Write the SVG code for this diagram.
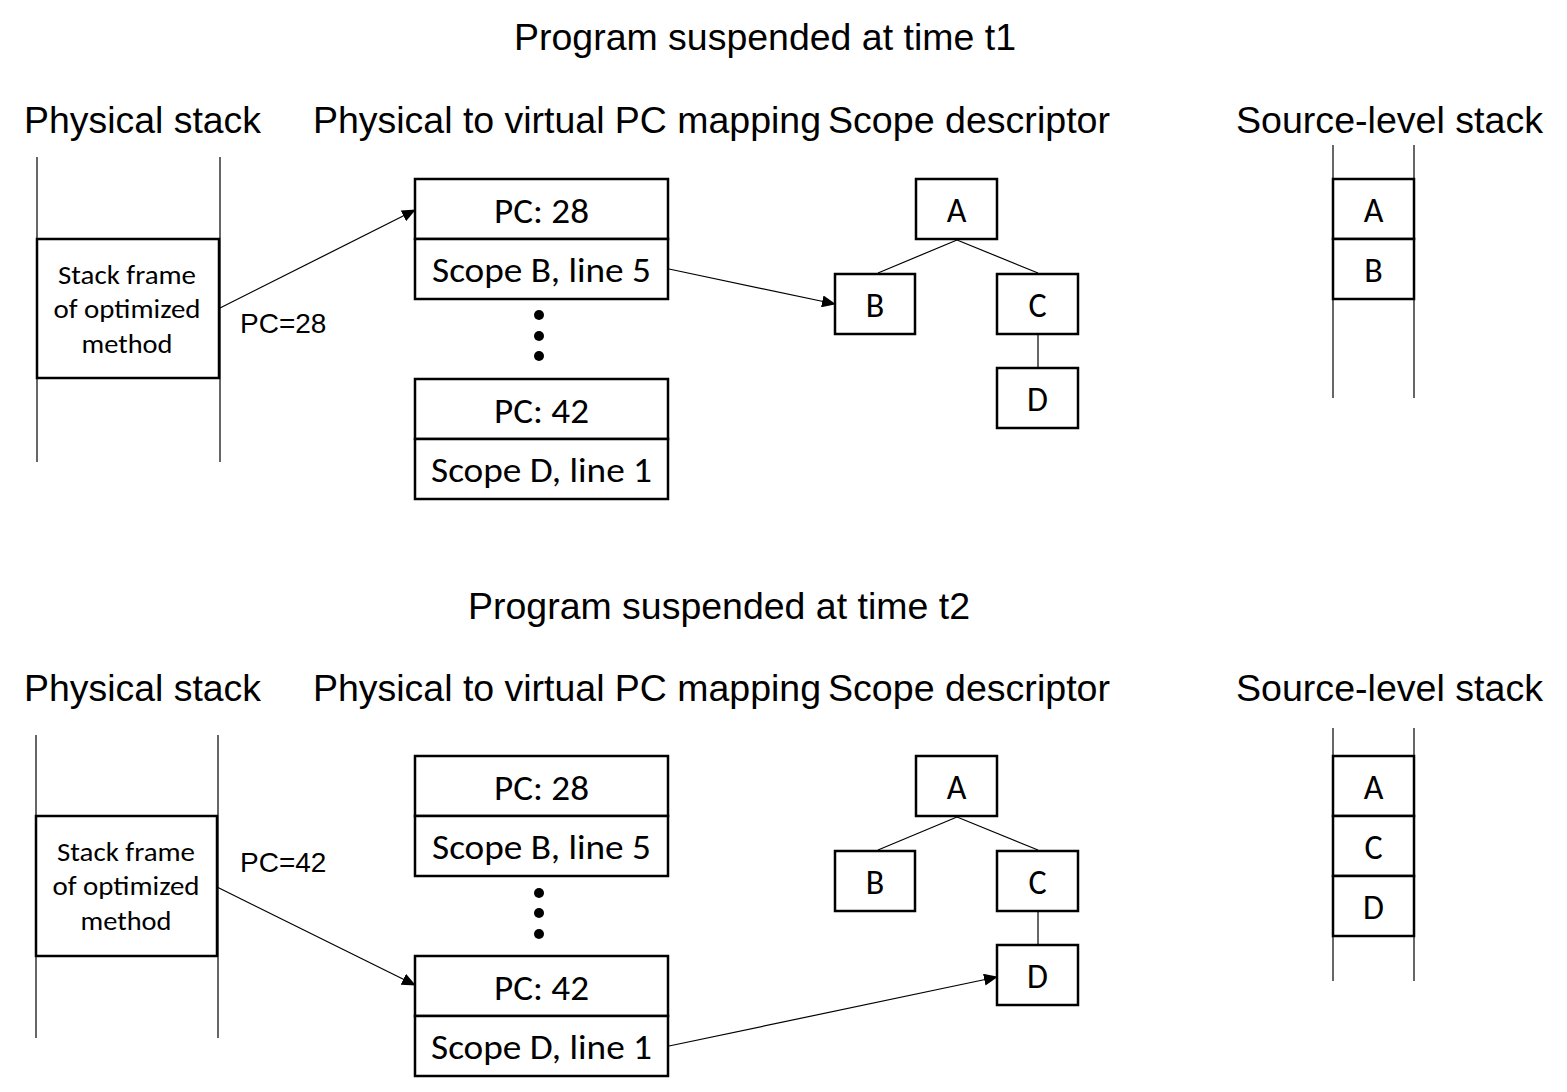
<svg xmlns="http://www.w3.org/2000/svg" width="1567" height="1092" viewBox="0 0 1567 1092">
<style>
.hdr{font-family:"Liberation Sans",Arial,sans-serif;font-size:37px;fill:#000}
.lbl{font-family:"Liberation Sans",Arial,sans-serif;font-size:28px;fill:#000}
.bt{font-family:Carlito,"Open Sans","Noto Sans",sans-serif;font-size:34px;fill:#000;text-anchor:middle}
.lt{font-family:Carlito,"Open Sans","Noto Sans",sans-serif;font-size:34px;fill:#000;text-anchor:middle}
.st{font-family:Carlito,"Open Sans","Noto Sans",sans-serif;font-size:26px;fill:#000;text-anchor:middle}
.box{fill:#fff;stroke:#000;stroke-width:2.5}
.rail{stroke:#000;stroke-width:1.2;fill:none}
.edge{stroke:#000;stroke-width:1.2;fill:none}
.arr{stroke:#000;stroke-width:1.2;fill:none;marker-end:url(#ah)}
</style>
<defs>
<marker id="ah" markerUnits="userSpaceOnUse" markerWidth="14" markerHeight="12" refX="13" refY="6" orient="auto">
<path d="M0,0 L14,6 L0,12 Z" fill="#000"/>
</marker>
</defs>
<rect width="1567" height="1092" fill="#fff"/>

<!-- ===== Top section ===== -->
<g id="title1"><text class="hdr" x="514" y="50" textLength="502" lengthAdjust="spacingAndGlyphs">Program suspended at time t1</text></g>
<g id="headers1">
<text class="hdr" x="24" y="133" textLength="237" lengthAdjust="spacingAndGlyphs">Physical stack</text>
<text class="hdr" x="313" y="133" textLength="508" lengthAdjust="spacingAndGlyphs">Physical to virtual PC mapping</text>
<text class="hdr" x="828" y="133" textLength="282" lengthAdjust="spacingAndGlyphs">Scope descriptor</text>
<text class="hdr" x="1236" y="133" textLength="307" lengthAdjust="spacingAndGlyphs">Source-level stack</text>
</g>

<g id="phys-stack-1">
<line class="rail" x1="37" y1="157" x2="37" y2="462"/>
<line class="rail" x1="220" y1="157" x2="220" y2="462"/>
<rect class="box" x="37" y="239" width="182" height="139"/>
<text class="st" x="127" y="284" textLength="138" lengthAdjust="spacingAndGlyphs">Stack frame</text>
<text class="st" x="127" y="318" textLength="147" lengthAdjust="spacingAndGlyphs">of optimized</text>
<text class="st" x="127" y="353" textLength="91" lengthAdjust="spacingAndGlyphs">method</text>
</g>

<g id="map-28-1">
<rect class="box" x="415" y="179" width="253" height="60"/>
<rect class="box" x="415" y="239" width="253" height="60"/>
<text class="bt" x="541.5" y="223" textLength="95" lengthAdjust="spacingAndGlyphs">PC: 28</text>
<text class="bt" x="541.5" y="282" textLength="219" lengthAdjust="spacingAndGlyphs">Scope B, line 5</text>
</g>
<g id="dots-1">
<circle cx="539" cy="315" r="5"/>
<circle cx="539" cy="336" r="5"/>
<circle cx="539" cy="356" r="5"/>
</g>
<g id="map-42-1">
<rect class="box" x="415" y="379" width="253" height="60"/>
<rect class="box" x="415" y="439" width="253" height="60"/>
<text class="bt" x="541.5" y="423" textLength="95" lengthAdjust="spacingAndGlyphs">PC: 42</text>
<text class="bt" x="541.5" y="482" textLength="221" lengthAdjust="spacingAndGlyphs">Scope D, line 1</text>
</g>

<g id="tree1-A"><rect class="box" x="916" y="179" width="81" height="60"/><text class="lt" x="956.5" y="222">A</text></g>
<g id="tree1-B"><rect class="box" x="835" y="274" width="80" height="60"/><text class="lt" x="875" y="317">B</text></g>
<g id="tree1-C"><rect class="box" x="997" y="274" width="81" height="60"/><text class="lt" x="1037.5" y="317">C</text></g>
<g id="tree1-D"><rect class="box" x="997" y="368" width="81" height="60"/><text class="lt" x="1037.5" y="411">D</text></g>

<g id="src-stack-1">
<line class="rail" x1="1333" y1="145" x2="1333" y2="398"/>
<line class="rail" x1="1414" y1="145" x2="1414" y2="398"/>
<rect class="box" x="1333" y="179" width="81" height="60"/>
<rect class="box" x="1333" y="239" width="81" height="60"/>
<text class="lt" x="1373.5" y="222">A</text>
<text class="lt" x="1373.5" y="282">B</text>
</g>

<g id="label-pc28"><text class="lbl" x="240" y="333">PC=28</text></g>

<!-- ===== Bottom section ===== -->
<g id="title2"><text class="hdr" x="468" y="619" textLength="502" lengthAdjust="spacingAndGlyphs">Program suspended at time t2</text></g>
<g id="headers2">
<text class="hdr" x="24" y="701" textLength="237" lengthAdjust="spacingAndGlyphs">Physical stack</text>
<text class="hdr" x="313" y="701" textLength="508" lengthAdjust="spacingAndGlyphs">Physical to virtual PC mapping</text>
<text class="hdr" x="828" y="701" textLength="282" lengthAdjust="spacingAndGlyphs">Scope descriptor</text>
<text class="hdr" x="1236" y="701" textLength="307" lengthAdjust="spacingAndGlyphs">Source-level stack</text>
</g>

<g id="phys-stack-2">
<line class="rail" x1="36" y1="735" x2="36" y2="1038"/>
<line class="rail" x1="218" y1="735" x2="218" y2="1038"/>
<rect class="box" x="36" y="816" width="181" height="140"/>
<text class="st" x="126" y="861" textLength="138" lengthAdjust="spacingAndGlyphs">Stack frame</text>
<text class="st" x="126" y="895" textLength="147" lengthAdjust="spacingAndGlyphs">of optimized</text>
<text class="st" x="126" y="930" textLength="91" lengthAdjust="spacingAndGlyphs">method</text>
</g>

<g id="map-28-2">
<rect class="box" x="415" y="756" width="253" height="60"/>
<rect class="box" x="415" y="816" width="253" height="60"/>
<text class="bt" x="541.5" y="800" textLength="95" lengthAdjust="spacingAndGlyphs">PC: 28</text>
<text class="bt" x="541.5" y="859" textLength="219" lengthAdjust="spacingAndGlyphs">Scope B, line 5</text>
</g>
<g id="dots-2">
<circle cx="539" cy="893" r="5"/>
<circle cx="539" cy="913" r="5"/>
<circle cx="539" cy="934" r="5"/>
</g>
<g id="map-42-2">
<rect class="box" x="415" y="956" width="253" height="60"/>
<rect class="box" x="415" y="1016" width="253" height="60"/>
<text class="bt" x="541.5" y="1000" textLength="95" lengthAdjust="spacingAndGlyphs">PC: 42</text>
<text class="bt" x="541.5" y="1059" textLength="221" lengthAdjust="spacingAndGlyphs">Scope D, line 1</text>
</g>

<g id="tree2-A"><rect class="box" x="916" y="756" width="81" height="60"/><text class="lt" x="956.5" y="799">A</text></g>
<g id="tree2-B"><rect class="box" x="835" y="851" width="80" height="60"/><text class="lt" x="875" y="894">B</text></g>
<g id="tree2-C"><rect class="box" x="997" y="851" width="81" height="60"/><text class="lt" x="1037.5" y="894">C</text></g>
<g id="tree2-D"><rect class="box" x="997" y="945" width="81" height="60"/><text class="lt" x="1037.5" y="988">D</text></g>

<g id="src-stack-2">
<line class="rail" x1="1333" y1="728" x2="1333" y2="981"/>
<line class="rail" x1="1414" y1="728" x2="1414" y2="981"/>
<rect class="box" x="1333" y="756" width="81" height="60"/>
<rect class="box" x="1333" y="816" width="81" height="60"/>
<rect class="box" x="1333" y="876" width="81" height="60"/>
<text class="lt" x="1373.5" y="799">A</text>
<text class="lt" x="1373.5" y="859">C</text>
<text class="lt" x="1373.5" y="919">D</text>
</g>

<g id="label-pc42"><text class="lbl" x="240" y="872">PC=42</text></g>

<!-- ===== Connectors ===== -->
<g id="connectors">
<line class="edge" x1="957" y1="240" x2="878" y2="273"/>
<line class="edge" x1="957" y1="240" x2="1038" y2="273"/>
<line class="edge" x1="1038" y1="335" x2="1038" y2="367"/>
<line class="edge" x1="957" y1="817" x2="878" y2="850"/>
<line class="edge" x1="957" y1="817" x2="1038" y2="850"/>
<line class="edge" x1="1038" y1="912" x2="1038" y2="944"/>
<line class="arr" x1="220" y1="308" x2="415" y2="210"/>
<line class="arr" x1="669" y1="269" x2="835" y2="304"/>
<line class="arr" x1="217" y1="887" x2="415" y2="985"/>
<line class="arr" x1="669" y1="1046" x2="997" y2="977"/>
</g>
</svg>
